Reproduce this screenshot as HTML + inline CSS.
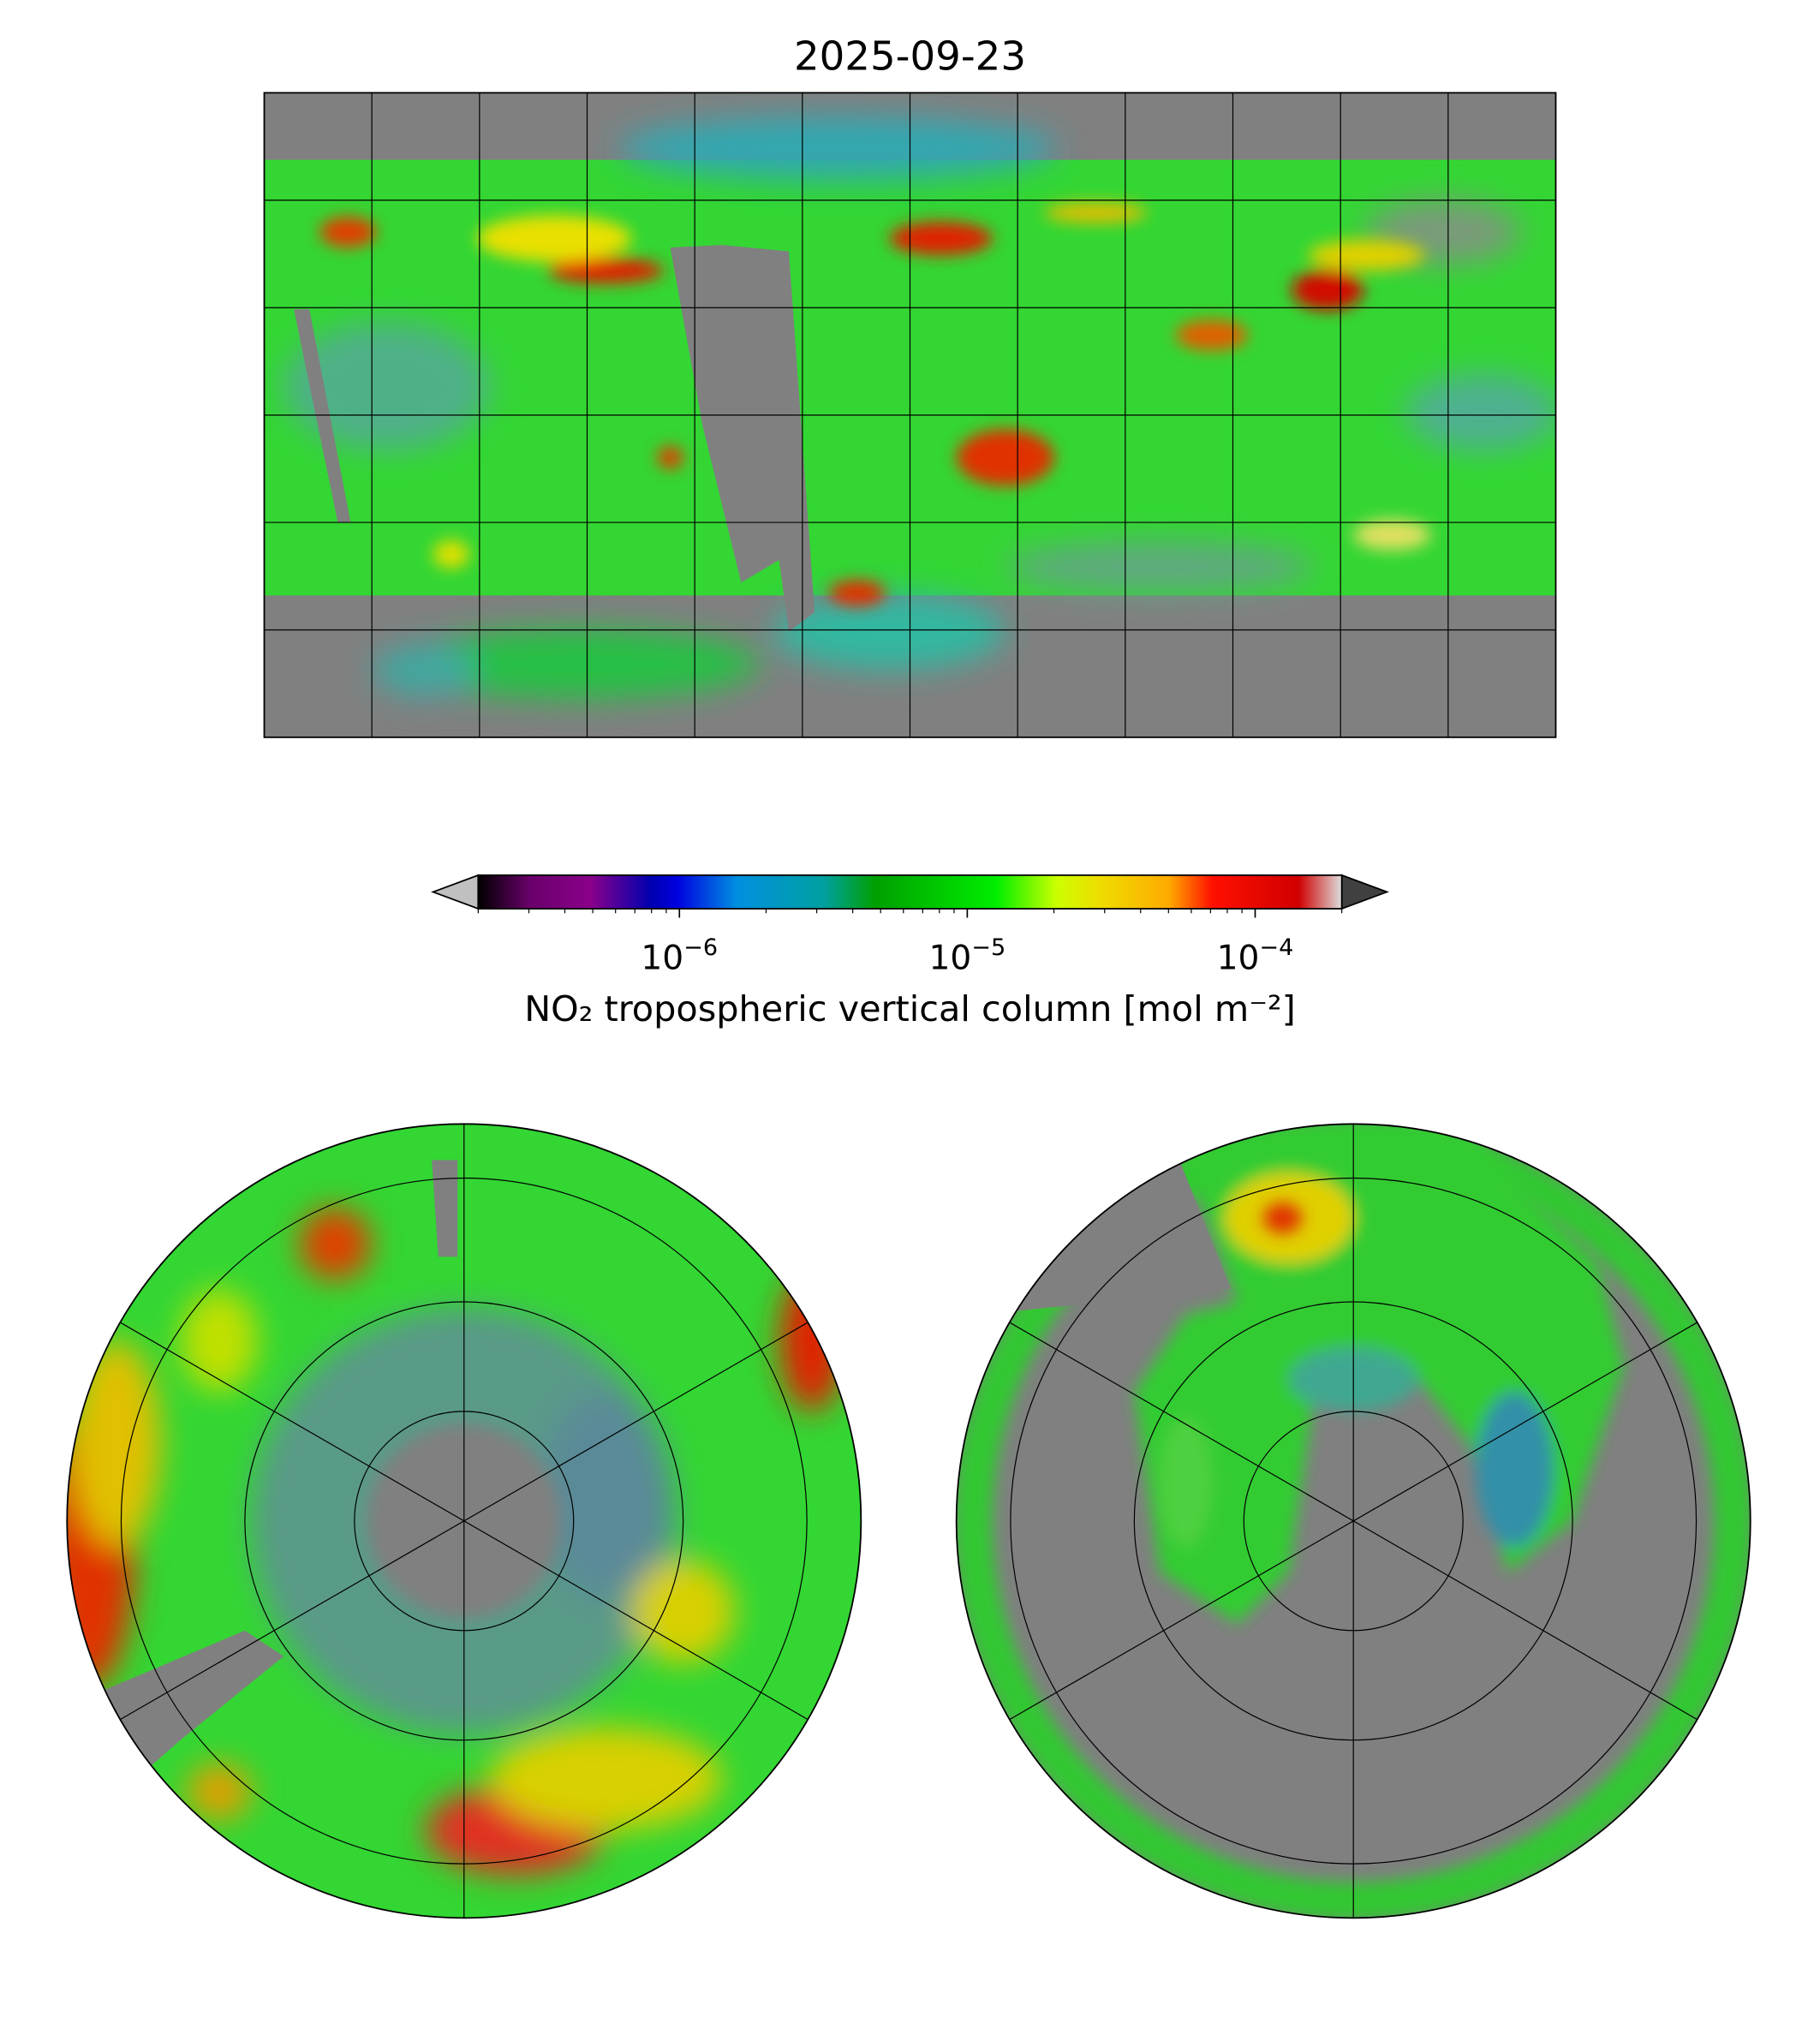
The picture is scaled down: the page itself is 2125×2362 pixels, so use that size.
<!DOCTYPE html>
<html><head><meta charset="utf-8"><style>
html,body{margin:0;padding:0;background:#fff}
svg{display:block}
text{font-family:"DejaVu Sans","Liberation Sans",sans-serif;fill:#000}
</style></head><body>
<svg id="fig" width="2125" height="2362" viewBox="0 0 1412 1569.5" preserveAspectRatio="none">
<defs>
<filter id="bl" x="-50%" y="-50%" width="200%" height="200%"><feGaussianBlur stdDeviation="6"/></filter>
<filter id="bl2" x="-50%" y="-50%" width="200%" height="200%"><feGaussianBlur stdDeviation="12"/></filter>
<clipPath id="mapclip"><rect x="205" y="72" width="1002" height="500"/></clipPath>
<clipPath id="nclip"><circle cx="360" cy="1180" r="308"/></clipPath>
<clipPath id="sclip"><circle cx="1050" cy="1180" r="308"/></clipPath>
<linearGradient id="cmap" x1="0" x2="1" y1="0" y2="0">
<stop offset="0" stop-color="#000"/><stop offset="0.06" stop-color="#6a006a"/><stop offset="0.13" stop-color="#8a008a"/>
<stop offset="0.2" stop-color="#0000b0"/><stop offset="0.23" stop-color="#0000e0"/><stop offset="0.3" stop-color="#0090e0"/>
<stop offset="0.4" stop-color="#00a0a0"/><stop offset="0.46" stop-color="#00a000"/><stop offset="0.6" stop-color="#00ee00"/>
<stop offset="0.67" stop-color="#ccff00"/><stop offset="0.72" stop-color="#eedd00"/><stop offset="0.8" stop-color="#ffaa00"/>
<stop offset="0.85" stop-color="#ff1000"/><stop offset="0.95" stop-color="#d00000"/><stop offset="1" stop-color="#dddddd"/>
</linearGradient>
</defs>
<rect width="1412" height="1569.5" fill="#fff"/>
<text x="706" y="54" font-size="31" text-anchor="middle">2025-09-23</text>

<!-- Global map -->
<g>
<g clip-path="url(#mapclip)">
<rect x="205" y="72" width="1002" height="500" fill="#33d633"/>
<rect x="205" y="72" width="1002" height="52" fill="#808080"/>
<rect x="205" y="462" width="1002" height="110" fill="#808080"/>
<g filter="url(#bl2)">
<ellipse cx="650" cy="115" rx="170" ry="25" fill="#30a8b0"/>
<ellipse cx="450" cy="515" rx="140" ry="28" fill="#25c045"/>
<ellipse cx="330" cy="520" rx="40" ry="20" fill="#40a8a0"/>
<ellipse cx="690" cy="490" rx="90" ry="30" fill="#30b8a0"/>
<ellipse cx="900" cy="440" rx="120" ry="20" fill="#60a880"/>
<ellipse cx="300" cy="300" rx="80" ry="50" fill="#50b088"/>
<ellipse cx="1120" cy="180" rx="60" ry="25" fill="#7a9a7a"/>
<ellipse cx="1150" cy="320" rx="60" ry="30" fill="#50b090"/>
</g>
<polygon points="520,192 560,190 612,430 575,452 545,330" fill="#808080"/>
<polygon points="560,190 612,195 632,475 612,490 590,330" fill="#808080"/>
<polygon points="228,240 240,240 272,405 262,405" fill="#808080"/>
<g filter="url(#bl)">
<ellipse cx="470" cy="210" rx="45" ry="10" fill="#e02000"/>
<ellipse cx="430" cy="185" rx="60" ry="18" fill="#e8e000"/>
<ellipse cx="270" cy="180" rx="22" ry="12" fill="#e04000"/>
<ellipse cx="730" cy="185" rx="40" ry="13" fill="#e02000"/>
<ellipse cx="1030" cy="225" rx="28" ry="16" fill="#d01000"/>
<ellipse cx="940" cy="260" rx="28" ry="12" fill="#e06000"/>
<ellipse cx="780" cy="355" rx="38" ry="22" fill="#e03000"/>
<ellipse cx="665" cy="460" rx="22" ry="10" fill="#e03000"/>
<ellipse cx="850" cy="165" rx="40" ry="8" fill="#e0c000"/>
<ellipse cx="1060" cy="198" rx="45" ry="12" fill="#e0d000"/>
<ellipse cx="520" cy="355" rx="10" ry="9" fill="#e04000"/>
<ellipse cx="350" cy="430" rx="14" ry="11" fill="#e0e000"/>
<ellipse cx="1080" cy="415" rx="30" ry="12" fill="#e0e060"/>
</g>
</g>
<g stroke="#000" stroke-width="0.8">
<path d="M288.5,72V572M372,72V572M455.5,72V572M539,72V572M622.5,72V572M706,72V572M789.5,72V572M873,72V572M956.5,72V572M1040,72V572M1123.5,72V572"/>
<path d="M205,155.3H1207M205,238.7H1207M205,322H1207M205,405.3H1207M205,488.7H1207"/>
</g>
<rect x="205" y="72" width="1002" height="500" fill="none" stroke="#000" stroke-width="1.2"/>
</g>

<!-- Colorbar -->
<g id="cbar">
<polygon points="371,679 336,692 371,705" fill="#c0c0c0" stroke="#000" stroke-width="1.2"/>
<polygon points="1041,679 1076,692 1041,705" fill="#404040" stroke="#000" stroke-width="1.2"/>
<rect x="371" y="679" width="670" height="26" fill="url(#cmap)" stroke="#000" stroke-width="1.2"/>
<g id="cticks"></g>
<text x="706" y="792" font-size="27.5" text-anchor="middle">NO₂ tropospheric vertical column [mol m⁻²]</text>
</g>

<!-- North polar -->
<g>
<g clip-path="url(#nclip)">
<rect x="50" y="870" width="620" height="620" fill="#33d633"/>
<g filter="url(#bl2)">
<circle cx="360" cy="1180" r="165" fill="#5a9a88"/>
<ellipse cx="470" cy="1160" rx="50" ry="80" fill="#5a8a98"/>
<ellipse cx="70" cy="1200" rx="35" ry="110" fill="#e03000"/>
<ellipse cx="90" cy="1120" rx="35" ry="80" fill="#e0c000"/>
<ellipse cx="400" cy="1420" rx="70" ry="35" fill="#e03020"/>
<ellipse cx="470" cy="1380" rx="90" ry="40" fill="#d8d000"/>
<ellipse cx="530" cy="1250" rx="40" ry="40" fill="#d8d000"/>
<ellipse cx="260" cy="965" rx="28" ry="28" fill="#e04000"/>
<ellipse cx="630" cy="1040" rx="25" ry="55" fill="#e02000"/>
<ellipse cx="170" cy="1390" rx="25" ry="22" fill="#e0a000"/>
<ellipse cx="170" cy="1040" rx="30" ry="40" fill="#c0e000"/>
</g>
<circle cx="360" cy="1180" r="75" fill="#808080" filter="url(#bl)"/>
<polygon points="60,1320 190,1265 220,1285 140,1350 60,1420" fill="#808080"/>
<polygon points="335,900 355,900 355,975 340,975" fill="#808080"/>
</g>
<g fill="none" stroke="#000" stroke-width="0.8">
<circle cx="360" cy="1180" r="85"/><circle cx="360" cy="1180" r="170"/><circle cx="360" cy="1180" r="266"/>
<path d="M360,872V1488M93.3,1026L626.7,1334M93.3,1334L626.7,1026"/>
</g>
<circle cx="360" cy="1180" r="308" fill="none" stroke="#000" stroke-width="1.2"/>
</g>

<!-- South polar -->
<g>
<g clip-path="url(#sclip)">
<rect x="740" y="870" width="620" height="620" fill="#808080"/>
<circle cx="1050" cy="1180" r="295" fill="none" stroke="#30c830" stroke-width="30" filter="url(#bl)"/>
<g filter="url(#bl)">
<polygon points="910,880 1130,870 1240,980 1260,1060 1220,1180 1170,1220 1140,1120 1100,1070 1020,1080 1000,1220 960,1260 900,1220 880,1080 920,1020 960,1010" fill="#33cc33"/>
<ellipse cx="1000" cy="945" rx="50" ry="35" fill="#e0d000"/>
<ellipse cx="1175" cy="1140" rx="30" ry="60" fill="#3090a8"/>
<ellipse cx="1050" cy="1070" rx="50" ry="25" fill="#40a890"/>
<ellipse cx="920" cy="1150" rx="20" ry="50" fill="#50d040"/>
</g>
<ellipse cx="995" cy="945" rx="15" ry="12" fill="#e03000" filter="url(#bl)"/>
<polygon points="905,875 760,870 760,1020 955,1000" fill="#808080"/>
</g>
<g fill="none" stroke="#000" stroke-width="0.8">
<circle cx="1050" cy="1180" r="85"/><circle cx="1050" cy="1180" r="170"/><circle cx="1050" cy="1180" r="266"/>
<path d="M1050,872V1488M783.3,1026L1316.7,1334M783.3,1334L1316.7,1026"/>
</g>
<circle cx="1050" cy="1180" r="308" fill="none" stroke="#000" stroke-width="1.2"/>
</g>
</svg>
<script>
const majorTickValues = [1e-6, 1e-5, 1e-4];
const majorTickLabels = ["10", "10", "10"];
const majorTickExps = ["\u22126", "\u22125", "\u22124"];
const colorMin = 2e-7;
const colorMax = 2e-4;
const NS = "http://www.w3.org/2000/svg";
const x0 = 371, x1 = 1041;
function xScale(v){ return x0 + (Math.log10(v) - Math.log10(colorMin)) / (Math.log10(colorMax) - Math.log10(colorMin)) * (x1 - x0); }
const g = document.getElementById('cticks');
function line(x, len, cls){
  const l = document.createElementNS(NS, 'line');
  l.setAttribute('x1', x); l.setAttribute('x2', x);
  l.setAttribute('y1', 705); l.setAttribute('y2', 705 + len);
  l.setAttribute('stroke', '#000'); l.setAttribute('stroke-width', len > 5 ? 1.1 : 0.8);
  
  
  g.appendChild(l);
}
for (let e = -7; e <= -4; e++) {
  for (let m = 1; m <= 9; m++) {
    const v = m * Math.pow(10, e);
    if (v < colorMin * 0.999 || v > colorMax * 1.001 || m === 1) continue;
    line(xScale(v), 3.5, 'colorbar-minor-tick');
  }
}
majorTickValues.forEach((v, i) => {
  const x = xScale(v);
  line(x, 7, 'colorbar-major-tick');
  const t = document.createElementNS(NS, 'text');
  t.setAttribute('x', x); t.setAttribute('y', 752);
  t.setAttribute('font-size', 26); t.setAttribute('text-anchor', 'middle');
  
  
  t.textContent = majorTickLabels[i];
  const s = document.createElementNS(NS, 'tspan');
  s.setAttribute('dy', -11); s.setAttribute('font-size', 18);
  s.textContent = majorTickExps[i];
  t.appendChild(s);
  g.appendChild(t);
});
</script>
</body></html>
